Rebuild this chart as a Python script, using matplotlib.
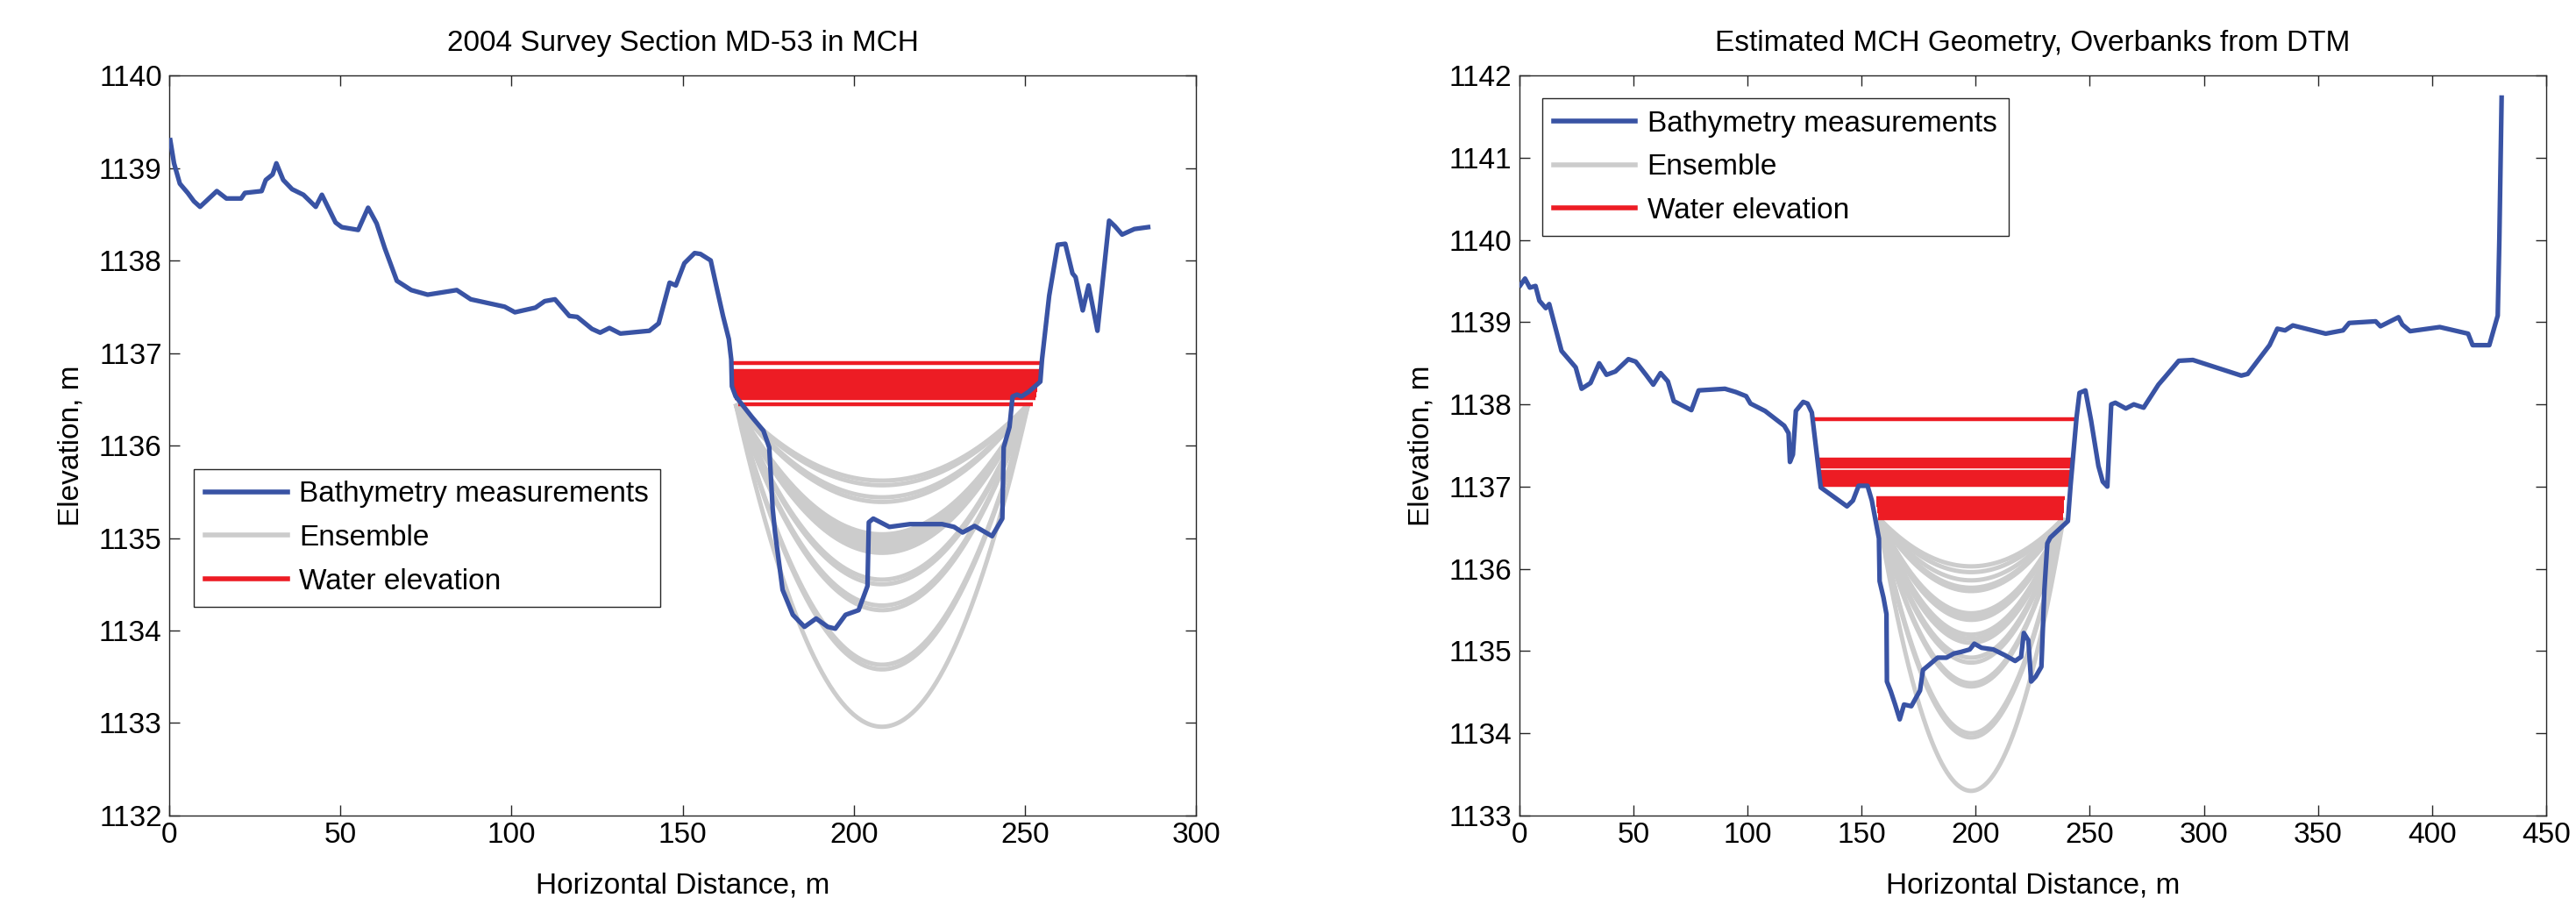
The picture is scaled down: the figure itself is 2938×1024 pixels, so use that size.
import numpy as np
import matplotlib
matplotlib.use("Agg")
import matplotlib.pyplot as plt
from matplotlib.lines import Line2D

plt.rcParams['font.family'] = ['Liberation Sans', 'DejaVu Sans']
plt.rcParams['font.size'] = 24

BLUE = '#3953a4'
GREY = '#cccccc'
RED = '#ed1c24'

# ---- 2004 survey, section MD-53 ----
survey_x = [0.3, 1.4, 3.1, 5.4, 7.2, 9.0, 13.9, 16.7, 21.0, 22.1, 27.0, 28.2, 30.2, 31.3,
            33.3, 35.9, 39.2, 42.8, 44.6, 48.6, 50.4, 55.2, 58.1, 60.6, 63.0, 66.5, 70.7,
            75.5, 84.0, 88.1, 98.0, 101.0, 107.0, 109.7, 112.7, 116.9, 119.2, 123.5, 125.9,
            128.6, 131.8, 140.3, 143.0, 146.2, 148.0, 150.5, 153.5, 155.2, 158.2, 160.1,
            161.8, 163.5, 164.2, 164.4, 165.5, 170.2, 173.6, 175.3, 176.3, 177.0, 179.2,
            182.2, 185.6, 189.0, 192.4, 194.6, 197.6, 201.4, 204.0, 204.4, 205.7, 210.4,
            216.4, 225.8, 229.3, 231.8, 235.3, 240.4, 243.4, 243.8, 245.5, 246.4, 247.7,
            249.0, 251.1, 254.5, 255.0, 257.1, 259.6, 261.8, 263.9, 264.8, 266.9, 268.6,
            271.2, 274.6, 276.3, 278.4, 282.0, 286.0]
survey_z = [1139.30, 1139.05, 1138.83, 1138.73, 1138.64, 1138.58, 1138.75, 1138.67, 1138.67,
            1138.73, 1138.75, 1138.87, 1138.93, 1139.05, 1138.87, 1138.77, 1138.71, 1138.58,
            1138.71, 1138.41, 1138.36, 1138.33, 1138.57, 1138.40, 1138.13, 1137.78, 1137.68,
            1137.63, 1137.68, 1137.58, 1137.50, 1137.44, 1137.49, 1137.56, 1137.58, 1137.40,
            1137.39, 1137.26, 1137.22, 1137.27, 1137.21, 1137.24, 1137.32, 1137.76, 1137.73,
            1137.97, 1138.08, 1138.07, 1138.00, 1137.68, 1137.40, 1137.15, 1136.93, 1136.64,
            1136.53, 1136.31, 1136.16, 1135.98, 1135.32, 1135.06, 1134.44, 1134.17, 1134.04,
            1134.13, 1134.04, 1134.02, 1134.17, 1134.22, 1134.48, 1135.17, 1135.21, 1135.12,
            1135.15, 1135.15, 1135.12, 1135.06, 1135.13, 1135.02, 1135.21, 1135.98, 1136.20,
            1136.53, 1136.55, 1136.53, 1136.58, 1136.69, 1136.93, 1137.62, 1138.17, 1138.18,
            1137.86, 1137.82, 1137.46, 1137.73, 1137.24, 1138.43, 1138.37, 1138.28, 1138.34,
            1138.36]
survey_banks = [165.5, 251.0]
survey_ens_top = 1136.45
survey_ens_bottom = [1135.62, 1135.57, 1135.44, 1135.39, 1135.04, 1135.00, 1134.96, 1134.92,
                     1134.88, 1134.84, 1134.55, 1134.50, 1134.27, 1134.22, 1133.63, 1133.58,
                     1132.96]
survey_wl = [1136.89, 1136.81, 1136.78, 1136.75, 1136.72, 1136.69, 1136.66, 1136.63,
             1136.60, 1136.57, 1136.54, 1136.51, 1136.45]
survey_wl_x0 = [164.5, 164.7, 164.8, 164.8, 164.9, 164.9, 165.0, 165.0, 165.1, 165.1,
                165.2, 165.2, 166.3]
survey_wl_x1 = [254.6, 254.3, 254.2, 254.1, 254.0, 253.9, 253.8, 253.7, 253.6, 253.4,
                253.3, 253.2, 252.2]

# ---- estimated MCH geometry, overbanks from DTM ----
dtm_x = [0.5, 2.5, 4.6, 7.1, 8.8, 11.6, 13.1, 18.5, 24.7, 27.3, 31.2, 35.0, 38.2, 42.1,
         47.8, 51.0, 55.5, 58.7, 61.9, 65.1, 67.7, 75.4, 78.6, 90.1, 94.9, 99.4, 101.3,
         107.7, 116.1, 118.0, 118.6, 119.9, 121.2, 124.4, 126.3, 128.2, 132.1, 143.6,
         146.2, 148.7, 152.6, 154.5, 157.6, 157.9, 159.6, 160.9, 161.1, 162.8, 164.7,
         166.7, 168.6, 171.8, 175.6, 176.9, 179.5, 183.3, 187.2, 190.4, 193.6, 197.4,
         199.4, 202.6, 207.7, 212.8, 217.3, 219.9, 221.1, 223.1, 224.3, 226.3, 228.8,
         230.1, 231.4, 232.7, 240.4, 241.6, 244.2, 245.5, 248.1, 250.6, 253.8, 255.7,
         257.7, 259.4, 261.2, 265.8, 269.3, 273.6, 280.1, 282.9, 289.0, 295.2, 316.4,
         319.2, 328.8, 332.2, 335.6, 339.0, 353.4, 361.0, 363.7, 375.3, 377.4, 385.3,
         387.0, 390.4, 403.4, 415.8, 417.8, 425.1, 428.8, 429.5, 430.5]
dtm_z = [1139.45, 1139.53, 1139.42, 1139.44, 1139.26, 1139.17, 1139.22, 1138.65, 1138.45,
         1138.19, 1138.26, 1138.50, 1138.36, 1138.40, 1138.55, 1138.52, 1138.36, 1138.24,
         1138.38, 1138.28, 1138.04, 1137.93, 1138.17, 1138.19, 1138.15, 1138.10, 1138.01,
         1137.92, 1137.74, 1137.65, 1137.30, 1137.39, 1137.92, 1138.03, 1138.01, 1137.90,
         1136.99, 1136.76, 1136.83, 1137.01, 1137.01, 1136.83, 1136.37, 1135.85, 1135.65,
         1135.45, 1134.63, 1134.51, 1134.35, 1134.17, 1134.35, 1134.33, 1134.52, 1134.77,
         1134.83, 1134.92, 1134.92, 1134.97, 1134.99, 1135.02, 1135.09, 1135.04, 1135.02,
         1134.95, 1134.88, 1134.93, 1135.22, 1135.13, 1134.63, 1134.69, 1134.81, 1135.74,
         1136.31, 1136.38, 1136.58, 1137.02, 1137.84, 1138.14, 1138.17, 1137.80, 1137.25,
         1137.06, 1137.00, 1138.00, 1138.02, 1137.95, 1138.00, 1137.96, 1138.24, 1138.33,
         1138.53, 1138.54, 1138.35, 1138.37, 1138.72, 1138.92, 1138.90, 1138.96, 1138.86,
         1138.90, 1138.99, 1139.01, 1138.95, 1139.06, 1138.97, 1138.89, 1138.94, 1138.86,
         1138.72, 1138.72, 1139.08, 1140.00, 1141.73]
dtm_banks = [157.5, 238.5]
dtm_ens_top = 1136.62
dtm_ens_bottom = [1136.03, 1135.96, 1135.86, 1135.77, 1135.73, 1135.46, 1135.42, 1135.38,
                  1135.20, 1135.15, 1135.10, 1134.92, 1134.86, 1134.61, 1134.57, 1134.00,
                  1133.95, 1133.30]
dtm_wl = [1137.82, 1137.33, 1137.30, 1137.27, 1137.24, 1137.18, 1137.15, 1137.12, 1137.09,
          1137.06, 1137.02, 1136.86, 1136.82, 1136.78, 1136.74, 1136.70, 1136.66, 1136.62]
dtm_wl_x0 = [129.3, 131.4, 131.5, 131.6, 131.8, 132.0, 132.1, 132.3, 132.4, 132.6, 132.7,
             156.3, 156.5, 156.6, 156.8, 157.0, 157.1, 157.2]
dtm_wl_x1 = [243.3, 241.8, 241.8, 241.7, 241.7, 241.6, 241.6, 241.6, 241.5, 241.5, 241.5,
             238.9, 238.8, 238.7, 238.6, 238.5, 238.4, 238.3]


def member_section(banks, top, bottom, n=150):
    # parabolic channel between the two bank points
    x = np.linspace(banks[0], banks[1], n)
    xc = 0.5 * (banks[0] + banks[1])
    half = 0.5 * (banks[1] - banks[0])
    return x, bottom + (top - bottom) * ((x - xc) / half) ** 2


def draw_panel(ax, title, bx, bz, banks, ens_top, ens_bottom, wl, wl_x0, wl_x1,
               xlim, ylim, xticks, legend_anchor):
    for b in ens_bottom:
        x, z = member_section(banks, ens_top, b)
        ax.plot(x, z, color=GREY, lw=3.6, zorder=1, solid_capstyle='butt')
    ax.hlines(wl, wl_x0, wl_x1, colors=RED, lw=3.2, zorder=2)
    ax.plot(bx, bz, color=BLUE, lw=3.8, zorder=3, solid_joinstyle='round')

    ax.set_xlim(*xlim)
    ax.set_ylim(*ylim)
    ax.set_xticks(xticks)
    ax.set_yticks(np.arange(ylim[0], ylim[1] + 1, 1))
    ax.tick_params(direction='in', top=True, right=True, length=8.5, width=1,
                   color='#262626', labelsize=24)
    ax.tick_params(axis='x', pad=5)
    ax.tick_params(axis='y', pad=6)
    for s in ax.spines.values():
        s.set_linewidth(1.0)
        s.set_color('#262626')
    ax.set_title(title, fontsize=24, pad=20)
    ax.set_xlabel('Horizontal Distance, m', fontsize=24, labelpad=19)
    ax.set_ylabel('Elevation, m', fontsize=24, labelpad=12)

    handles = [Line2D([], [], color=BLUE, lw=4),
               Line2D([], [], color=GREY, lw=4),
               Line2D([], [], color=RED, lw=4)]
    leg = ax.legend(handles, ['Bathymetry measurements', 'Ensemble', 'Water elevation'],
                    loc='upper left', bbox_to_anchor=legend_anchor, borderaxespad=0,
                    fontsize=24, fancybox=False, framealpha=1, edgecolor='#262626',
                    borderpad=0.4, handlelength=2.8, handletextpad=0.4,
                    labelspacing=0.56)
    leg.get_frame().set_linewidth(1.0)


fig = plt.figure(figsize=(29.38, 10.24), dpi=100)
ax1 = fig.add_axes([0.0657, 0.0918, 0.3986, 0.8242])
ax2 = fig.add_axes([0.5898, 0.0918, 0.3986, 0.8242])

draw_panel(ax1, '2004 Survey Section MD-53 in MCH', survey_x, survey_z, survey_banks,
           survey_ens_top, survey_ens_bottom, survey_wl, survey_wl_x0, survey_wl_x1,
           (0, 300), (1132, 1140), np.arange(0, 301, 50), (0.024, 0.468))
draw_panel(ax2, 'Estimated MCH Geometry, Overbanks from DTM', dtm_x, dtm_z, dtm_banks,
           dtm_ens_top, dtm_ens_bottom, dtm_wl, dtm_wl_x0, dtm_wl_x1,
           (0, 450), (1133, 1142), np.arange(0, 451, 50), (0.022, 0.969))

fig.savefig('out.png', dpi=100)
